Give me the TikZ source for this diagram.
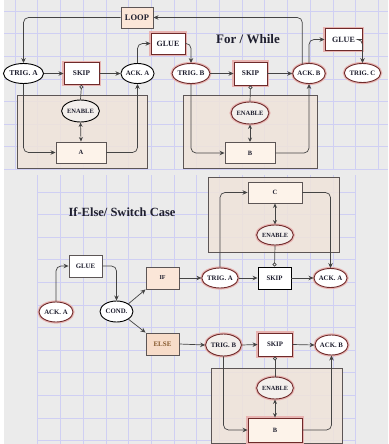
\documentclass[tikz,border=0pt]{standalone}
\usepackage{fontspec}
\setmainfont{Liberation Serif}
\usetikzlibrary{shapes.geometric,arrows.meta}
\definecolor{bg}{HTML}{EBEBEB}
\definecolor{gridc}{HTML}{CFCFF3}
\definecolor{contfill}{HTML}{EFE3DA}
\definecolor{contdraw}{HTML}{5C5555}
\definecolor{boxfill}{HTML}{FDF3EA}
\definecolor{peach}{HTML}{FBE6D8}
\definecolor{peachb}{HTML}{F7DCC9}
\definecolor{glowc}{HTML}{E8B4B2}
\definecolor{redb}{HTML}{6E2A2A}
\definecolor{txt}{HTML}{1E1E2E}
\definecolor{linec}{HTML}{444444}
\definecolor{enfill}{HTML}{F3EFEC}
\begin{document}
\begin{tikzpicture}[x=1pt,y=-1pt,
  lbl/.style={font=\bfseries\fontsize{#1}{#1}\selectfont, text=txt, inner sep=0pt},
  ell/.style={ellipse, draw=black, line width=0.9pt, fill=white},
  sq/.style={rectangle, draw=black, line width=0.9pt, fill=white},
  glow/.style={draw=redb, preaction={draw=glowc, line width=3.2pt}},
  cont/.style={draw=contdraw, line width=0.8pt, fill=contfill, fill opacity=0.85},
  conn/.style={draw=linec, line width=0.7pt, rounded corners=5pt, -{Stealth[length=5pt,width=4.5pt]}},
  skipc/.style={draw=linec, line width=0.7pt, -{Circle[open,length=4pt,width=4pt]}},
  both/.style={draw=linec, line width=0.7pt, {Stealth[length=4.5pt,width=4pt]}-{Stealth[length=4.5pt,width=4pt]}},
  gl/.style={gridc, line width=0.5pt}
]
\useasboundingbox (0,0) rectangle (388,444);
\fill[white] (0,0) rectangle (388,444);
\fill[bg] (4,0) rectangle (388,444);
% grid
\foreach \i in {0,...,16} \draw[gl] ({15+22.7*\i},0) -- ({15+22.7*\i},170);
\foreach \j in {0,...,7} \draw[gl] (4,{11+22.6*\j}) -- (388,{11+22.6*\j});
\foreach \i in {1,...,15} \draw[gl] ({15+22.7*\i},175) -- ({15+22.7*\i},444);
\foreach \j in {8,...,19} \draw[gl] (37,{11+22.6*\j}) -- (356,{11+22.6*\j});
% containers
\draw[cont] (17,95) rectangle (147,168);
\draw[cont] (183,95) rectangle (317,168);
\draw[cont] (208,177) rectangle (339,252);
\draw[cont] (211,368) rectangle (342,443);

% titles
\node[lbl=13] (t1) at (248,39) {For / While};
\node[lbl=12.5] (t2) at (122,212) {If-Else/ Switch Case};

% ---------- top: For / While ----------
\node[sq, lbl=8.5, fill=peach, draw=contdraw, minimum width=32pt, minimum height=21pt] (loop) at (137,17.5) {LOOP};
\node[ell, lbl=7.5, minimum width=33pt, minimum height=20pt] (trigA) at (23.5,73.5) {TRIG. A};
\node[sq, glow, lbl=7.3, minimum width=35pt, minimum height=22pt] (skipA) at (81.5,73.5) {SKIP};
\node[ell, lbl=6.8, minimum width=31pt, minimum height=20pt] (ackA) at (137.5,73.5) {ACK. A};
\node[sq, glow, lbl=8, minimum width=34pt, minimum height=21pt] (glue1) at (168,43.5) {GLUE};
\node[ell, glow, lbl=7.2, minimum width=32pt, minimum height=20pt] (trigB) at (191,73.5) {TRIG. B};
\node[sq, glow, lbl=7.3, minimum width=33pt, minimum height=23pt] (skipB) at (250.5,73.5) {SKIP};
\node[ell, glow, lbl=6.8, minimum width=32pt, minimum height=20pt] (ackB) at (309,73.5) {ACK. B};
\node[sq, glow, lbl=8, minimum width=37pt, minimum height=22pt] (glue2) at (343.5,39.5) {GLUE};
\node[ell, glow, lbl=6.8, minimum width=31pt, minimum height=19pt] (trigC) at (362.5,73) {TRIG. C};

\node[ell, lbl=6.5, fill=enfill, minimum width=33pt, minimum height=22pt] (enA) at (80.5,111) {ENABLE};
\node[sq, lbl=6.5, fill=boxfill, draw=contdraw, minimum width=50pt, minimum height=21pt] (boxA) at (81,152.5) {A};
\node[ell, glow, lbl=6.5, fill=enfill, minimum width=33pt, minimum height=22pt] (enB) at (250,113) {ENABLE};
\node[sq, lbl=6.5, fill=boxfill, draw=contdraw, minimum width=50pt, minimum height=21pt] (boxB) at (250,153) {B};

\draw[conn] (ackB.125) |- (loop.east);
\draw[conn] (loop.west) -| (trigA.north);
\draw[conn] (trigA.east) -- (skipA.west);
\draw[conn] (skipA.east) -- (ackA.west);
\draw[skipc] (enA.north) -- (skipA.south);
\draw[both] (enA.south) -- (boxA.north);
\draw[conn] (trigA.south) |- (boxA.west);
\draw[conn] (boxA.east) -| (ackA.south);
\draw[conn] (ackA.north) |- (glue1.west);
\draw[conn] (glue1.east) -| (trigB.north);
\draw[conn] (trigB.east) -- (skipB.west);
\draw[conn] (skipB.east) -- (ackB.west);
\draw[skipc] (enB.north) -- (skipB.south);
\draw[both] (enB.south) -- (boxB.north);
\draw[conn] (trigB.south) |- (boxB.west);
\draw[conn] (boxB.east) -| (ackB.south);
\draw[conn] (ackB.north) |- (glue2.west);
\draw[conn] (glue2.east) -| (trigC.north);

% ---------- bottom: If-Else ----------
\node[sq, lbl=6.8, draw=contdraw, minimum width=33pt, minimum height=22pt] (glue3) at (85.5,266) {GLUE};
\node[ell, glow, lbl=6.8, minimum width=34pt, minimum height=20pt] (ackAL) at (56,312) {ACK. A};
\node[ell, lbl=6.8, minimum width=33pt, minimum height=21pt] (cond) at (116.5,311.5) {COND.};
\node[sq, lbl=6, fill=peach, draw=contdraw, minimum width=33pt, minimum height=22pt] (ifb) at (162.5,278) {IF};
\node[sq, lbl=7, text=brown!70!black, fill=peachb, draw=contdraw, minimum width=33pt, minimum height=22pt] (elseb) at (162.5,344) {ELSE};

\node[ell, glow, lbl=6.8, minimum width=34pt, minimum height=20pt] (trigAL) at (220,278) {TRIG. A};
\node[sq, lbl=6.8, minimum width=33pt, minimum height=22pt] (skipAL) at (274.5,278) {SKIP};
\node[ell, glow, lbl=6.8, minimum width=33pt, minimum height=19pt] (ackAR) at (330.5,278) {ACK. A};
\node[sq, lbl=6.5, fill=boxfill, draw=contdraw, minimum width=54pt, minimum height=21pt] (boxC) at (275,192.5) {C};
\node[ell, glow, lbl=6.3, fill=enfill, minimum width=32pt, minimum height=20pt] (enC) at (275,235) {ENABLE};

\node[ell, glow, lbl=6.8, fill=enfill, minimum width=33pt, minimum height=22pt] (trigBL) at (223.5,345) {TRIG. B};
\node[sq, glow, lbl=6.8, minimum width=34pt, minimum height=23pt] (skipBL) at (275,344.5) {SKIP};
\node[ell, glow, lbl=6.8, minimum width=33pt, minimum height=20pt] (ackBR) at (331.5,345) {ACK. B};
\node[ell, glow, lbl=6.3, fill=enfill, minimum width=32pt, minimum height=22pt] (enBL) at (275,388) {ENABLE};
\node[sq, glow, lbl=6.5, fill=boxfill, minimum width=54pt, minimum height=24pt] (boxBL) at (275,430) {B};

\draw[conn] (ackAL.north) |- (glue3.west);
\draw[conn] (glue3.east) -| (cond.north);
\draw[conn, rounded corners=0pt] (cond.north east) -- (ifb.south west);
\draw[conn, rounded corners=0pt] (cond.south east) -- (elseb.north west);
\draw[conn] (ifb.east) -- (trigAL.west);
\draw[conn] (trigAL.east) -- (skipAL.west);
\draw[conn] (skipAL.east) -- (ackAR.west);
\draw[skipc] (enC.south) -- (skipAL.north);
\draw[both] (boxC.south) -- (enC.north);
\draw[conn] (trigAL.north) |- (boxC.west);
\draw[conn] (boxC.east) -| (ackAR.north);

\draw[conn] (elseb.east) -- (trigBL.west);
\draw[conn] (trigBL.east) -- (skipBL.west);
\draw[conn] (skipBL.east) -- (ackBR.west);
\draw[skipc] (enBL.north) -- (skipBL.south);
\draw[both] (enBL.south) -- (boxBL.north);
\draw[conn] (trigBL.south) |- (boxBL.west);
\draw[conn] (boxBL.east) -| (ackBR.south);
\end{tikzpicture}
\end{document}
